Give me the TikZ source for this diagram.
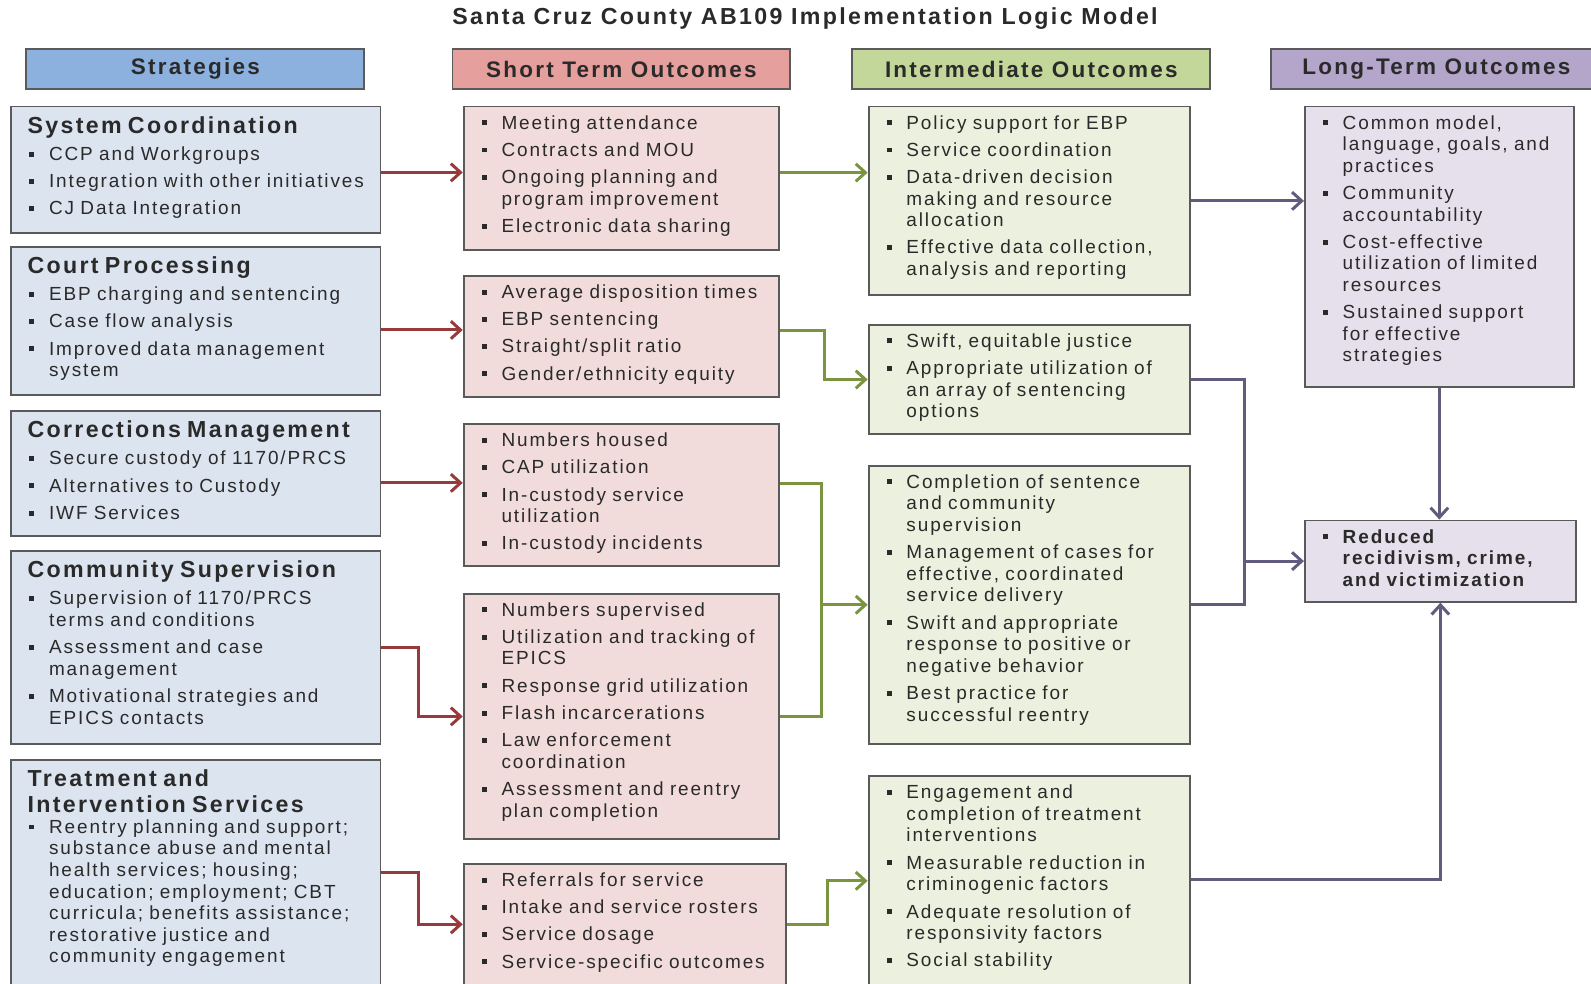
\documentclass[tikz,border=0pt]{standalone}
\usepackage{fontspec}
\setmainfont{Liberation Sans}[LetterSpace=10]
\usetikzlibrary{arrows.meta,calc,fit,positioning}

\definecolor{stratfill}{HTML}{DCE4F0}
\definecolor{stratbar}{HTML}{8DB1DE}
\definecolor{shortfill}{HTML}{F2DCDB}
\definecolor{shortbar}{HTML}{E59F9D}
\definecolor{interfill}{HTML}{EBF1DE}
\definecolor{interbar}{HTML}{C3D79B}
\definecolor{longfill}{HTML}{E5E0EC}
\definecolor{longbar}{HTML}{B4A5CA}
\definecolor{boxline}{HTML}{5A5A5A}
\definecolor{redline}{HTML}{963A3C}
\definecolor{greenline}{HTML}{7A9440}
\definecolor{purpleline}{HTML}{625B7E}
\definecolor{txt}{HTML}{2A2A2A}

\newcommand{\sqbul}{\raisebox{0.2em}{\rule{0.26em}{0.26em}}}
\newcommand{\itm}[1]{\hangindent=12.2pt\hangafter=1\noindent\strut\makebox[12.2pt][l]{\hspace{1pt}\sqbul}{\let\\\newline#1}\par}
\newcommand{\hd}[1]{{\fontsize{13.2}{14.4}\selectfont\bfseries\rule{0pt}{11pt}#1\par}}
\newcommand{\outbox}[6]{%
  \node[boxframe,fill=#4,fit={(#2) (#3)}] (#1) {};
  \node[boxtext,text width=#5,anchor=north west] (#1-text) at ([shift={(17,8)}]#1.north west) {\parskip=3.2pt #6};}

\tikzset{
  boxframe/.style={draw=boxline,line width=1.1pt,inner sep=0pt},
  boxtext/.style={inner sep=0pt,align=left,text=txt,font=\fontsize{10.8}{12.3}\selectfont},
  barhead/.style={draw=boxline,line width=1.1pt,inner sep=0pt,anchor=north west,minimum height=0.806cm,
    text=txt,font=\fontsize{12.8}{14}\selectfont\bfseries},
  redarrow/.style={draw=redline,line width=1.7pt,-{Straight Barb[length=5.5pt,width=10pt]}},
  greenjoin/.style={draw=greenline,line width=1.7pt},
  greenarrow/.style={greenjoin,-{Straight Barb[length=5.5pt,width=10pt]}},
  purplejoin/.style={draw=purpleline,line width=1.7pt},
  purplearrow/.style={purplejoin,-{Straight Barb[length=5.5pt,width=10pt]}}
}

\begin{document}
\begin{tikzpicture}[x=0.02cm,y=-0.02cm]
  \useasboundingbox (0,0) rectangle (1591,983);
  \clip (0,0) rectangle (1591,983);
  % title and column heads
  \node[text=txt,font=\fontsize{13.2}{15}\selectfont\bfseries] (title) at (805,19) {Santa Cruz County AB109 Implementation Logic Model};
  \node[barhead,fill=stratbar,minimum width=6.758cm] (strathead) at (25.4,48) {Strategies};
  \node[barhead,fill=shortbar,minimum width=6.758cm] (shorthead) at (451.5,48) {Short Term Outcomes};
  \node[barhead,fill=interbar,minimum width=7.164cm] (interhead) at (851.3,48) {Intermediate Outcomes};
  \node[barhead,fill=longbar,minimum width=6.6cm] (longhead) at (1270.4,48) {Long-Term Outcomes};
  % strategies
  \outbox{strat1}{11.2,106.5}{380.5,233.4}{stratfill}{6.9cm}{\hd{System Coordination}%
    \itm{CCP and Workgroups}\itm{Integration with other initiatives}\itm{CJ Data Integration}}
  \outbox{strat2}{11.2,246.6}{380.5,394.7}{stratfill}{6.9cm}{\hd{Court Processing}%
    \itm{EBP charging and sentencing}\itm{Case flow analysis}\itm{Improved data management\\system}}
  \outbox{strat3}{11.2,411}{380.5,535.8}{stratfill}{6.9cm}{\hd{Corrections Management}%
    \itm{Secure custody of 1170/PRCS}\itm{Alternatives to Custody}\itm{IWF Services}}
  \outbox{strat4}{11.2,551}{380.5,743.8}{stratfill}{6.9cm}{\hd{Community Supervision}%
    \itm{Supervision of 1170/PRCS\\terms and conditions}\itm{Assessment and case\\management}%
    \itm{Motivational strategies and\\EPICS contacts}}
  \outbox{strat5}{11.2,760}{380.5,990}{stratfill}{6.9cm}{\hd{Treatment and\\Intervention Services}\vspace{-3.4pt}%
    \itm{Reentry planning and support;\\substance abuse and mental\\health services; housing;\\education; employment; CBT\\curricula; benefits assistance;\\restorative justice and\\community engagement}}
  % short term outcomes
  \outbox{short1}{463.7,106.5}{779.3,249.6}{shortfill}{5.9cm}{%
    \itm{Meeting attendance}\itm{Contracts and MOU}\itm{Ongoing planning and\\program improvement}\itm{Electronic data sharing}}
  \outbox{short2}{463.7,276}{779.3,396.7}{shortfill}{5.9cm}{%
    \itm{Average disposition times}\itm{EBP sentencing}\itm{Straight/split ratio}\itm{Gender/ethnicity equity}}
  \outbox{short3}{463.7,424.1}{779.3,566.2}{shortfill}{5.9cm}{%
    \itm{Numbers housed}\itm{CAP utilization}\itm{In-custody service\\utilization}\itm{In-custody incidents}}
  \outbox{short4}{463.7,593.6}{779.3,839.2}{shortfill}{5.9cm}{%
    \itm{Numbers supervised}\itm{Utilization and tracking of\\EPICS}\itm{Response grid utilization}%
    \itm{Flash incarcerations}\itm{Law enforcement\\coordination}\itm{Assessment and reentry\\plan completion}}
  \outbox{short5}{463.7,864}{786,990}{shortfill}{6cm}{%
    \itm{Referrals for service}\itm{Intake and service rosters}\itm{Service dosage}\itm{Service-specific outcomes}}
  % intermediate outcomes
  \outbox{inter1}{868.6,106.5}{1190.2,295.3}{interfill}{6cm}{%
    \itm{Policy support for EBP}\itm{Service coordination}\itm{Data-driven decision\\making and resource\\allocation}%
    \itm{Effective data collection,\\analysis and reporting}}
  \outbox{inter2}{868.6,324.7}{1190.2,434.3}{interfill}{6cm}{%
    \itm{Swift, equitable justice}\itm{Appropriate utilization of\\an array of sentencing\\options}}
  \outbox{inter3}{868.6,465.7}{1190.2,743.8}{interfill}{6cm}{%
    \itm{Completion of sentence\\and community\\supervision}\itm{Management of cases for\\effective, coordinated\\service delivery}%
    \itm{Swift and appropriate\\response to positive or\\negative behavior}\itm{Best practice for\\successful reentry}}
  \outbox{inter4}{868.6,776.2}{1190.2,990}{interfill}{6cm}{%
    \itm{Engagement and\\completion of treatment\\interventions}\itm{Measurable reduction in\\criminogenic factors}%
    \itm{Adequate resolution of\\responsivity factors}\itm{Social stability}}
  % long-term outcomes
  \outbox{long}{1304.9,106.5}{1573.8,386.6}{longfill}{5cm}{%
    \itm{Common model,\\language, goals, and\\practices}\itm{Community\\accountability}%
    \itm{Cost-effective\\utilization of limited\\resources}\itm{Sustained support\\for effective\\strategies}}
  \outbox{reduced}{1304.9,520.5}{1575.8,601.7}{longfill}{5cm}{%
    \itm{\bfseries Reduced\\recidivism, crime,\\and victimization}}
  % strategies -> short term
  \coordinate (r1) at ([yshift=-1.4pt]strat1.east);
  \coordinate (r2) at ([yshift=-5.3pt]strat2.east);
  \coordinate (r3) at ([yshift=-5.4pt]strat3.east);
  \draw[redarrow] (r1) -- (r1 -| short1.west);
  \draw[redarrow] (r2) -- (r2 -| short2.west);
  \draw[redarrow] (r3) -- (r3 -| short3.west);
  \draw[redarrow] (strat4.east) -- ++(37.5,0) |- (short4.west);
  \draw[redarrow] ([yshift=1.4pt]strat5.east) -- ++(37.5,0) |- ([yshift=1.5pt]short5.west);
  % short term -> intermediate
  \coordinate (g1) at ([yshift=3.1pt]short1.east);
  \coordinate (gj) at ($(inter3.west)+(-46.6,0)$);
  \draw[greenarrow] (g1) -- (g1 -| inter1.west);
  \draw[greenarrow] ([yshift=3.6pt]short2.east) -- ++(44,0) |- (inter2.west);
  \draw[greenjoin] ([yshift=6.9pt]short3.east) -| (gj);
  \draw[greenjoin] (short4.east) -| (gj);
  \draw[greenarrow] (gj) -- (gj -| inter3.west);
  \draw[greenarrow] ([yshift=1.5pt]short5.east) -- ++(41,0) |- ([yshift=1.3pt]inter4.west);
  % intermediate -> long-term
  \coordinate (pj) at ($(reduced.west)+(-59,0)$);
  \draw[purplearrow] (inter1.east) -- (inter1.east -| long.west);
  \draw[purplejoin] (inter2.east) -| (pj);
  \draw[purplejoin] (inter3.east) -| (pj);
  \draw[purplearrow] (pj) -- (reduced.west);
  \draw[purplearrow] (long.south) -- (long.south |- reduced.north);
  \draw[purplearrow] ([yshift=2.3pt]inter4.east) -| (reduced.south);
\end{tikzpicture}
\end{document}
